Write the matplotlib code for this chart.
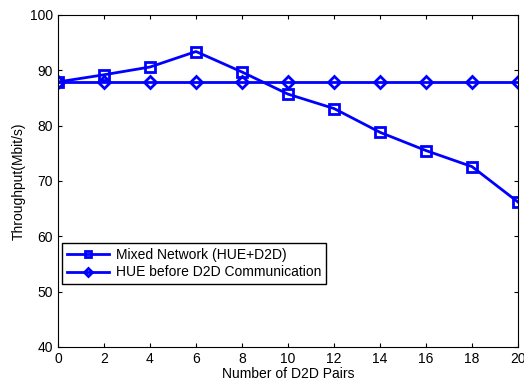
import matplotlib
matplotlib.use("Agg")
import matplotlib.pyplot as plt

x = [0, 2, 4, 6, 8, 10, 12, 14, 16, 18, 20]
mixed = [87.9, 89.2, 90.6, 93.4, 89.7, 85.7, 83.1, 78.8, 75.5, 72.6, 66.2]
hue = [87.9] * 11
labels = ["Mixed Network (HUE+D2D)", "HUE before D2D Communication"]

plt.rcParams['font.family'] = ['Liberation Sans', 'DejaVu Sans']
fig = plt.figure(figsize=(5.24, 3.83), dpi=100)
ax = fig.add_axes([58/524, 1-347/383, 460/524, 332/383])
ax.plot(x, mixed, color='#0000ff', lw=2, marker='s', ms=7, mfc='none', mew=2, label=labels[0])
ax.plot(x, hue, color='#0000ff', lw=2, marker='D', ms=6, mfc='none', mew=2, label=labels[1])
ax.set_xlim(0, 20)
ax.set_ylim(40, 100)
ax.set_xticks(range(0, 21, 2))
ax.set_yticks(range(40, 101, 10))
ax.tick_params(direction='in', top=True, right=True, labelsize=10, length=3)
ax.set_xlabel('Number of D2D Pairs', fontsize=10, labelpad=1)
ax.set_ylabel('Throughput(Mbit/s)', fontsize=10, labelpad=3)
leg = ax.legend(loc='upper left', bbox_to_anchor=(0.009, 0.313), borderaxespad=0, fontsize=10,
                fancybox=False, edgecolor='black', framealpha=1, handlelength=3.0, borderpad=0.35,
                labelspacing=0.25, markerscale=0.7, handletextpad=0.5)
leg.get_frame().set_linewidth(1)
fig.savefig('out.png', dpi=100)
